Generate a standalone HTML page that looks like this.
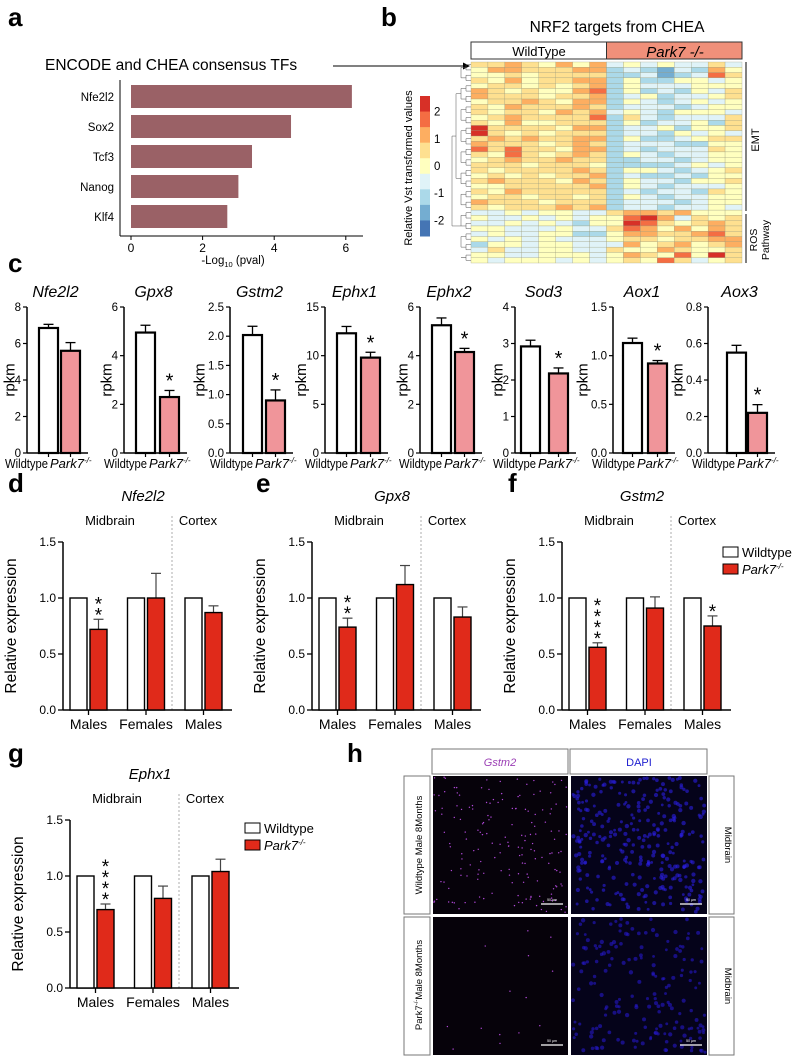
<!DOCTYPE html>
<html><head><meta charset="utf-8">
<style>
html,body{margin:0;padding:0;background:#fff;}
svg{display:block;font-family:"Liberation Sans",Arial,sans-serif;}
</style></head>
<body>
<svg id="fig" width="795" height="1057" viewBox="0 0 795 1057" xmlns="http://www.w3.org/2000/svg">
<rect x="0" y="0" width="795" height="1057" fill="#fff"/>
<g font-weight="bold" font-size="26">
<text x="8" y="26">a</text>
<text x="381" y="26">b</text>
<text x="8" y="272">c</text>
<text x="8" y="492">d</text>
<text x="256" y="492">e</text>
<text x="508" y="492">f</text>
<text x="8" y="762">g</text>
<text x="347" y="762">h</text>
</g>
</svg>
<script>
// ---------- DATA ----------
const tfNames = ["Nfe2l2","Sox2","Tcf3","Nanog","Klf4"];
const tfValues = [6.17,4.47,3.38,3.0,2.69];
const tfTicks = [0,2,4,6];

const heatRows = [
"5565464634343353","4665556623213264","4454555522312375","5464556624224434",
"4554545624333444","6545446724232435","6555455623423345","4556546624323434",
"5465556523332344","5455465634324443","4565555725323335","5464455524233425",
"8555546623342445","8545455523324343","5656556624223455","6555456523332244",
"7575546623233354","5475456524323344","4565565522332344","5554555422223434",
"5455556524432345","4545455623223244","5655546524332445","4455555624323334",
"5465555523233254","4554554524323344","6555455523332344","5455565623323343",
"3343443356656444","4334343447863545","3343432448754565","4433343357646465",
"3433442246655675","4343433345545566","2443443336456456","3533443354465445",
"4433444346547485","4344434345475345"];
const heatColors = ["#4575b4","#74add1","#abd9e9","#e0f3f8","#ffffbf","#fee090","#fdae61","#f46d43","#d73027"];
const cbTicks = [2,1,0,-1,-2];

const cGenes = ["Nfe2l2","Gpx8","Gstm2","Ephx1","Ephx2","Sod3","Aox1","Aox3"];
const cWT = [6.85,4.95,2.02,12.3,5.25,2.92,1.13,0.55];
const cWTerr = [0.2,0.3,0.15,0.7,0.3,0.17,0.05,0.04];
const cKO = [5.6,2.3,0.9,9.8,4.15,2.18,0.92,0.22];
const cKOerr = [0.45,0.27,0.18,0.55,0.15,0.15,0.03,0.045];
const cMax = [8,6,2.5,15,6,4,1.5,0.8];
const cTicks = [["0","2","4","6","8"],["0","2","4","6"],["0.0","0.5","1.0","1.5","2.0","2.5"],["0","5","10","15"],["0","2","4","6"],["0","1","2","3","4"],["0.0","0.5","1.0","1.5"],["0.0","0.2","0.4","0.6","0.8"]];
const cStars = ["","*","*","*","*","*","*","*"];

const qGroups = ["Males","Females","Males"];
const qTicks = ["0.0","0.5","1.0","1.5"];
const dWT = [1,1,1]; const dKO = [0.72,1.0,0.87]; const dErr = [0.09,0.22,0.06]; const dStars = ["**","",""];
const eWT = [1,1,1]; const eKO = [0.74,1.12,0.83]; const eErr = [0.08,0.17,0.09]; const eStars = ["**","",""];
const fWT = [1,1,1]; const fKO = [0.56,0.91,0.75]; const fErr = [0.04,0.10,0.09]; const fStars = ["****","","*"];
const gWT = [1,1,1]; const gKO = [0.70,0.80,1.04]; const gErr = [0.05,0.11,0.11]; const gStars = ["****","",""];

// ---------- HELPERS ----------
const NS="http://www.w3.org/2000/svg";
const svg=document.getElementById('fig');
function mk(tag,attrs,name,parent){
  const el=document.createElementNS(NS,tag);
  for(const k in attrs) el.setAttribute(k,attrs[k]);
  
  
  (parent||svg).appendChild(el);
  return el;
}
function txt(x,y,s,size,name,opts){
  opts=opts||{};
  const a={x:x,y:y,'font-size':size,fill:opts.fill||'#000'};
  if(opts.anchor) a['text-anchor']=opts.anchor;
  if(opts.italic) a['font-style']='italic';
  if(opts.rot) a.transform='rotate('+opts.rot+' '+x+' '+y+')';
  if(opts.len){a.textLength=opts.len;a.lengthAdjust='spacingAndGlyphs';}
  const t=mk('text',a,name);
  t.textContent=s;
  return t;
}
function line(x1,y1,x2,y2,name,w,col,dash){
  const a={x1:x1,y1:y1,x2:x2,y2:y2,stroke:col||'#000','stroke-width':w||1.5};
  if(dash) a['stroke-dasharray']=dash;
  return mk('line',a,name);
}

// ---------- PANEL A ----------
(function(){
  const x0=131, pxPer=35.8;
  const xs=v=>x0+v*pxPer;
  txt(45,70,"ENCODE and CHEA consensus TFs",15.5,"panel-a-title");
  line(333,66,464,66,"arrow-line",1);
  mk('polygon',{points:"463,62.5 470,66 463,69.5",fill:'#000'},"arrow-head");
  line(120,80,120,236,"panel-a-y-axis",1);
  line(120,236,363,236,"panel-a-x-axis",1);
  tfNames.forEach((n,i)=>{
    const y=85+i*30;
    mk('rect',{x:x0,y:y,width:xs(tfValues[i])-x0,height:23,fill:'#9a6166'},"bar-"+n.toLowerCase());
    txt(114,y+16,n,11.5,"tf-label-"+n.toLowerCase(),{anchor:'end'});
  });
  tfTicks.forEach(t=>{
    line(xs(t),236,xs(t),240,"x-tick",1);
    txt(xs(t),252,String(t),12,"x-tick-label",{anchor:'middle'});
  });
  const t=txt(233,264,"",11.5,"panel-a-x-title",{anchor:'middle'});
  t.innerHTML='-Log<tspan font-size="7.5" dy="3">10</tspan><tspan dy="-3"> (pval)</tspan>';
})();

// ---------- PANEL B ----------
(function(){
  const x0=471,x1=742,y0=62,y1=263;
  txt(617,32,"NRF2 targets from CHEA",15.5,"panel-b-title",{anchor:'middle'});
  mk('rect',{x:x0,y:42,width:(x1-x0)/2,height:17,fill:'#fff',stroke:'#333','stroke-width':1},"wildtype-header");
  mk('rect',{x:(x0+x1)/2,y:42,width:(x1-x0)/2,height:17,fill:'#f0907a',stroke:'#333','stroke-width':1},"park7-header");
  txt(539,56,"WildType",13,"wildtype-header-label",{anchor:'middle'});
  txt(675,57,"Park7 -/-",15,"park7-header-label",{anchor:'middle',italic:true});
  const nR=heatRows.length,nC=16,cw=(x1-x0)/nC,rh=(y1-y0)/nR;
  heatRows.forEach((row,r)=>{
    for(let c=0;c<nC;c++){
      mk('rect',{x:x0+c*cw,y:y0+r*rh,width:cw,height:rh,fill:heatColors[+row[c]],stroke:'#9a9a7a','stroke-width':0.3},"heatmap-cell");
    }
  });
  for(let r=0;r<nR;r+=2){
    const ya=y0+(r+0.5)*rh, yb=y0+(Math.min(r+1,nR-1)+0.5)*rh;
    line(466,ya,471,ya,"dendrogram-branch",0.5,'#555');
    line(466,yb,471,yb,"dendrogram-branch",0.5,'#555');
    line(466,ya,466,yb,"dendrogram-branch",0.5,'#555');
  }
  for(let r=0;r<nR;r+=4){
    const ya=y0+(r+1)*rh, yb=y0+(Math.min(r+3,nR-1))*rh;
    line(461,ya,466,ya,"dendrogram-branch",0.5,'#555');
    line(461,yb,466,yb,"dendrogram-branch",0.5,'#555');
    line(461,ya,461,yb,"dendrogram-branch",0.5,'#555');
  }
  line(456,y0+6*rh,461,y0+6*rh,"dendrogram-branch",0.5,'#555');
  line(456,y0+22*rh,461,y0+22*rh,"dendrogram-branch",0.5,'#555');
  line(456,y0+6*rh,456,y0+22*rh,"dendrogram-branch",0.5,'#555');
  line(456,y0+31*rh,461,y0+31*rh,"dendrogram-branch",0.5,'#555');
  line(452,y0+14*rh,456,y0+14*rh,"dendrogram-branch",0.5,'#555');
  line(452,y0+31*rh,456,y0+31*rh,"dendrogram-branch",0.5,'#555');
  line(452,y0+14*rh,452,y0+31*rh,"dendrogram-branch",0.5,'#555');
  const cbTop=96,cbH=140;
  heatColors.slice().reverse().forEach((col,i)=>{
    mk('rect',{x:420,y:cbTop+i*cbH/9,width:10,height:cbH/9+0.5,fill:col},"colorbar-segment");
  });
  cbTicks.forEach(t=>{
    const y=cbTop+cbH/2-t*(cbH/9)*1.75+4;
    txt(434,y,String(t),11.5,"colorbar-tick-label");
  });
  txt(412,168,"Relative Vst transformed values",11,"colorbar-title",{anchor:'middle',rot:-90});
  line(746,y0,746,211,"emt-bracket",1);
  line(746,214,746,y1,"ros-bracket",1);
  txt(759,140,"EMT",11,"emt-label",{anchor:'middle',rot:-90});
  txt(757,240,"ROS",10.5,"ros-label",{anchor:'middle',rot:-90});
  txt(769,240,"Pathway",10.5,"pathway-label",{anchor:'middle',rot:-90});
})();

// ---------- PANEL C ----------
(function(){
  const axes=[27,124,230,325,420,515,613,708];
  const wtX=[39,136,243,337,432,521,623,727];
  const koX=[61,160,266,361,455,549,648,748];
  const top=307,bot=453,bw=19;
  cGenes.forEach((g,i)=>{
    const ax=axes[i];
    const ys=v=>bot-v/cMax[i]*(bot-top);
    txt((ax+koX[i]+bw)/2+2,297,g,16,"title-"+g.toLowerCase(),{anchor:'middle',italic:true});
    line(ax,top,ax,bot,"y-axis-"+g.toLowerCase(),1.5);
    line(ax,bot,koX[i]+bw+8,bot,"x-axis-"+g.toLowerCase(),1.5);
    const tk=cTicks[i];
    tk.forEach((t,j)=>{
      const y=top+(bot-top)*(1-j/(tk.length-1));
      line(ax-4,y,ax,y,"y-tick",1.2);
      txt(ax-6,y+4,t,11.5,"y-tick-label",{anchor:'end'});
    });
    const lw=Math.max(...tk.map(s=>s.length));
    txt(ax-6-lw*6.5,(top+bot)/2,"rpkm",15,"rpkm-label",{anchor:'middle',rot:-90});
    const bars=[[cWT[i],cWTerr[i],wtX[i],'#fff','wildtype'],[cKO[i],cKOerr[i],koX[i],'#f0959a','park7']];
    bars.forEach(b=>{
      const yv=ys(b[0]), ye=ys(b[0]+b[1]);
      line(b[2]+bw/2,yv,b[2]+bw/2,ye,"error-bar",1.3);
      line(b[2]+bw/2-5,ye,b[2]+bw/2+5,ye,"error-cap",1.3);
      mk('rect',{x:b[2],y:yv,width:bw,height:bot-yv,fill:b[3],stroke:'#000','stroke-width':2.2},"bar-"+g.toLowerCase()+"-"+b[4]);
      line(b[2]+bw/2,bot,b[2]+bw/2,bot+4,"x-tick",1.2);
    });
    if(cStars[i]) txt(koX[i]+bw/2,ys(cKO[i]+cKOerr[i])-3,cStars[i],20,"significance-star",{anchor:'middle'});
    txt(koX[i]-56,468,"Wildtype",13,"x-label-wildtype",{len:43});
    const p=txt(koX[i]-11,468,"",13,"x-label-park7",{italic:true});
    p.innerHTML='Park7<tspan font-size="8" dy="-5">-/-</tspan>';
  });
})();

// ---------- PANELS D-G ----------
function qpcr(ax,top,title,wt,ko,err,stars,key){
  const bot=top+168;
  const ys=v=>bot-v/1.5*(bot-top);
  txt(ax+80,top-41,title,15,key+"-title",{anchor:'middle',italic:true});
  txt(ax+47,top-17,"Midbrain",13,key+"-midbrain-label",{anchor:'middle'});
  txt(ax+135,top-17,"Cortex",13,key+"-cortex-label",{anchor:'middle'});
  line(ax+109,top-26,ax+109,bot,key+"-divider",0.8,'#999','2,2');
  line(ax,top,ax,bot,key+"-y-axis",1.5);
  line(ax,bot,ax+169,bot,key+"-x-axis",1.5);
  qTicks.forEach((t,j)=>{
    const y=ys(parseFloat(t));
    line(ax-5,y,ax,y,"y-tick",1.3);
    txt(ax-7,y+4,t,12,"y-tick-label",{anchor:'end'});
  });
  txt(ax-47,(top+bot)/2,"Relative expression",15.5,key+"-y-title",{anchor:'middle',rot:-90});
  qGroups.forEach((g,i)=>{
    const gx=ax+7+i*57.5;
    mk('rect',{x:gx,y:ys(wt[i]),width:17,height:bot-ys(wt[i]),fill:'#fff',stroke:'#000','stroke-width':1.4},key+"-bar-wildtype-"+i);
    const yv=ys(ko[i]),ye=ys(ko[i]+err[i]);
    line(gx+28.5,yv,gx+28.5,ye,"error-bar",1.2,'#444');
    line(gx+23.5,ye,gx+33.5,ye,"error-cap",1.2,'#444');
    mk('rect',{x:gx+20,y:yv,width:17,height:bot-yv,fill:'#e02a1a',stroke:'#000','stroke-width':1.4},key+"-bar-park7-"+i);
    line(gx+18.5,bot,gx+18.5,bot+5,"x-tick",1.3);
    txt(gx+18.5,bot+19,g,14,key+"-x-label",{anchor:'middle'});
    const s=stars[i];
    for(let k=0;k<s.length;k++){
      txt(gx+28.5,ye-4-k*11+6,"*",19,"significance-star",{anchor:'middle'});
    }
  });
}
qpcr(63,542,"Nfe2l2",dWT,dKO,dErr,dStars,"nfe2l2");
qpcr(312,542,"Gpx8",eWT,eKO,eErr,eStars,"gpx8");
qpcr(562,542,"Gstm2",fWT,fKO,fErr,fStars,"gstm2");
qpcr(70,820,"Ephx1",gWT,gKO,gErr,gStars,"ephx1");
function legend(x,y,key){
  mk('rect',{x:x,y:y,width:15,height:10,fill:'#fff',stroke:'#000','stroke-width':1},key+"-legend-wildtype-swatch");
  txt(x+19,y+10,"Wildtype",13,key+"-legend-wildtype");
  mk('rect',{x:x,y:y+17,width:15,height:10,fill:'#e02a1a',stroke:'#000','stroke-width':1},key+"-legend-park7-swatch");
  const p=txt(x+19,y+27,"",13,key+"-legend-park7",{italic:true});
  p.innerHTML='Park7<tspan font-size="8" dy="-5">-/-</tspan>';
}
legend(723,547,"gstm2");
legend(245,823,"ephx1");

// ---------- PANEL H ----------
(function(){
  let seed=7;
  function rnd(){seed=(seed*16807)%2147483647;return seed/2147483647;}
  mk('rect',{x:432,y:749,width:136,height:25,fill:'#fff',stroke:'#777','stroke-width':1},"gstm2-header");
  mk('rect',{x:570,y:749,width:137,height:25,fill:'#fff',stroke:'#777','stroke-width':1},"dapi-header");
  txt(500,766,"Gstm2",11,"gstm2-header-label",{anchor:'middle',italic:true,fill:'#9b3fb5'});
  txt(639,766,"DAPI",11,"dapi-header-label",{anchor:'middle',fill:'#2020d0'});
  const rows=[776,917];
  rows.forEach((ry,ri)=>{
    mk('rect',{x:404,y:ry,width:26,height:138,fill:'#fff',stroke:'#777','stroke-width':1},"row-label-box");
    mk('rect',{x:709,y:ry,width:25,height:138,fill:'#fff',stroke:'#777','stroke-width':1},"region-label-box");
    txt(725,ry+69,"Midbrain",9.5,"region-label",{anchor:'middle',rot:90});
    mk('rect',{x:433,y:ry,width:135,height:138,fill:'#06020a'},"gstm2-image");
    mk('rect',{x:571,y:ry,width:136,height:138,fill:'#05031a'},"dapi-image");
    const nP = ri===0?170:14;
    for(let k=0;k<nP;k++){
      mk('circle',{cx:434+rnd()*133,cy:ry+1+rnd()*136,r:0.7,fill:'#b048d8'},"gstm2-puncta");
    }
    const nN = ri===0?300:180;
    for(let k=0;k<nN;k++){
      mk('circle',{cx:573+rnd()*132,cy:ry+2+rnd()*134,r:1.4+rnd()*0.8,fill:ri===0?'#2a1ee0':'#2418c8','fill-opacity':0.6},"dapi-nucleus");
    }
    line(541,ry+128,563,ry+128,"scale-bar",1.2,'#fff');
    txt(552,ry+125,"50 µm",3.5,"scale-bar-label",{anchor:'middle',fill:'#fff'});
    line(680,ry+128,702,ry+128,"scale-bar",1.2,'#fff');
    txt(691,ry+125,"50 µm",3.5,"scale-bar-label",{anchor:'middle',fill:'#fff'});
  });
  txt(422,845,"Wildtype Male 8Months",9.5,"wildtype-row-label",{anchor:'middle',rot:-90});
  const p=txt(422,985,"",9.5,"park7-row-label",{anchor:'middle',rot:-90});
  p.innerHTML='Park7<tspan font-size="6" dy="-4">-/-</tspan><tspan dy="4">Male 8Months</tspan>';
})();
</script>
</body></html>
